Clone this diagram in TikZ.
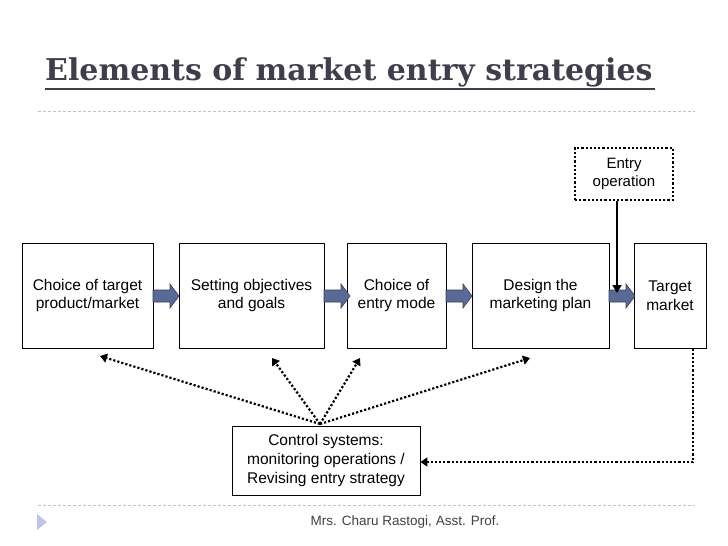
\documentclass[tikz,border=0pt]{standalone}
\usepackage{fontspec}
\setmainfont{Liberation Sans}
\newfontfamily\titlefont{DejaVu Serif}
\usetikzlibrary{arrows.meta}
\definecolor{tcol}{HTML}{3F3F4C}
\definecolor{arr}{HTML}{5A6A96}
\definecolor{dotc}{HTML}{B8C4D0}
\begin{document}
\begin{tikzpicture}[x=1pt,y=-1pt,
  box/.style={draw,thick,minimum height=105pt,align=center,font=\fontsize{15.5}{18.5}\selectfont,inner sep=0pt},
  dots/.style={line width=2.2pt,dotted,-{Triangle[length=7pt,width=9pt]}}]
\useasboundingbox (0,0) rectangle (728,546);
\node[anchor=base west,font=\titlefont\bfseries\fontsize{30}{33}\selectfont,text=tcol,inner sep=0pt] (title) at (45,80) {Elements of market entry strategies};
\draw[tcol,line width=1.5pt] (45,89) -- (655,89);
\draw[dotc,line width=1pt,dashed,dash pattern=on 3pt off 2pt] (38,111) -- (695,111);
\node[box,minimum width=131pt] (b1) at (87.5,295.5) {Choice of target\\product/market};
\node[box,minimum width=145pt] (b2) at (251.5,295.5) {Setting objectives\\and goals};
\node[box,minimum width=99pt] (b3) at (396.5,295.5) {Choice of\\entry mode};
\node[box,minimum width=137pt] (b4) at (540.5,295.5) {Design the\\marketing plan};
\node[box,minimum width=72pt] (b5) at (670,295.5) {Target\\market};
\foreach \n/\x in {a1/153,a2/324,a3/446,a4/609}{
  \draw[draw=arr!60!black,fill=arr,line width=0.6pt] (\x,290) -- ++(17,0) -- ++(0,-6) -- ++(9,12) -- ++(-9,12) -- ++(0,-6) -- ++(-17,0) -- cycle;
  \coordinate (\n) at (\x+13,296);}
\node[draw,line width=2.2pt,dotted,minimum width=98pt,minimum height=52pt,align=center,font=\fontsize{15}{18}\selectfont,inner sep=0pt] (eo) at (624,174) {Entry\\operation};
\draw[line width=2pt,-{Triangle[length=8pt,width=9pt]}] (eo.south -| 617,0) -- (617,293);
\node[draw,thick,minimum width=188pt,minimum height=69pt,align=center,font=\fontsize{15.5}{19}\selectfont,inner sep=0pt] (cs) at (326,460.5) {Control systems:\\monitoring operations /\\Revising entry strategy};
\coordinate (o) at (320,424);
\draw[dots] (o) -- (100,356);
\draw[dots] (o) -- (272,358);
\draw[dots] (o) -- (360,358);
\draw[dots] (o) -- (530,358);
\draw[dots] (b5.south -| 693,0) -- (693,462) -- (cs.east |- 0,462);
\draw[dotc,line width=1pt,dashed,dash pattern=on 3pt off 2pt] (38,505) -- (695,505);
\fill[dotc!80!blue!60] (37,514) -- (47,522) -- (37,530) -- cycle;
\node[font=\fontsize{13.5}{16}\selectfont,text=black!75] (ft) at (405,522) {Mrs. Charu Rastogi, Asst. Prof.};
\end{tikzpicture}
\end{document}
